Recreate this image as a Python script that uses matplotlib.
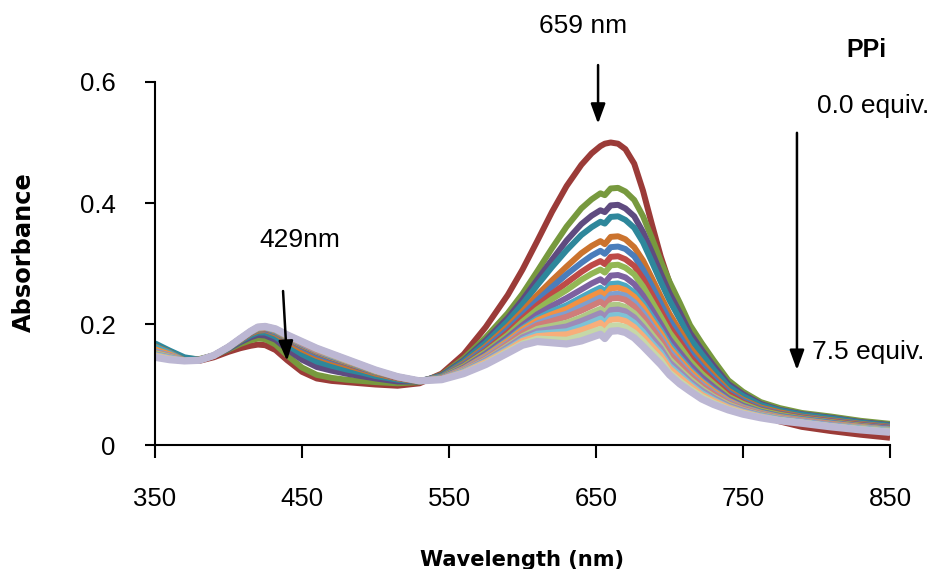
import matplotlib
matplotlib.use("Agg")
import matplotlib.pyplot as plt

# wavelength grid (nm) shared by every spectrum
wavelength = [350, 360, 370, 380, 390, 400, 408, 415, 420, 425, 432, 440, 450, 460, 470, 480, 490, 500, 515, 530,
              545, 560, 575, 590, 600, 610, 620, 630, 640, 647, 653, 656, 660, 665, 670, 676,
              682, 688, 694, 700, 707, 714, 722, 730, 740, 750, 762, 775, 790, 810, 830, 850]

# absorbance, 0.0 equiv. PPi first, 7.5 equiv. last
eq_00 = [0.150, 0.146, 0.141, 0.139, 0.145, 0.154, 0.160, 0.164, 0.166, 0.165, 0.157, 0.140, 0.121, 0.110, 0.106, 0.104, 0.102, 0.100, 0.098, 0.102,
         0.118, 0.150, 0.195, 0.248, 0.290, 0.337, 0.385, 0.428, 0.463, 0.482, 0.494, 0.498, 0.500, 0.498, 0.489, 0.465,
         0.420, 0.365, 0.312, 0.268, 0.225, 0.185, 0.148, 0.118, 0.089, 0.068, 0.051, 0.039, 0.030, 0.023, 0.017, 0.012]
eq_01 = [0.155, 0.150, 0.143, 0.142, 0.148, 0.158, 0.167, 0.173, 0.176, 0.175, 0.166, 0.148, 0.128, 0.116, 0.111, 0.108, 0.106, 0.104, 0.102, 0.104,
         0.116, 0.143, 0.178, 0.218, 0.250, 0.287, 0.325, 0.361, 0.391, 0.406, 0.416, 0.413, 0.424, 0.425, 0.419, 0.405,
         0.378, 0.342, 0.304, 0.270, 0.235, 0.198, 0.168, 0.140, 0.107, 0.088, 0.071, 0.061, 0.053, 0.047, 0.040, 0.035]
eq_02 = [0.158, 0.150, 0.142, 0.141, 0.148, 0.159, 0.170, 0.178, 0.182, 0.181, 0.174, 0.158, 0.141, 0.129, 0.123, 0.118, 0.114, 0.110, 0.105, 0.105,
         0.115, 0.140, 0.173, 0.210, 0.240, 0.273, 0.306, 0.338, 0.365, 0.379, 0.388, 0.385, 0.396, 0.397, 0.391, 0.378,
         0.352, 0.319, 0.284, 0.251, 0.219, 0.185, 0.157, 0.131, 0.101, 0.084, 0.068, 0.058, 0.051, 0.045, 0.038, 0.033]
eq_03 = [0.168, 0.156, 0.145, 0.141, 0.148, 0.160, 0.172, 0.181, 0.186, 0.186, 0.179, 0.165, 0.150, 0.138, 0.131, 0.125, 0.120, 0.114, 0.108, 0.105,
         0.114, 0.138, 0.169, 0.205, 0.233, 0.264, 0.294, 0.322, 0.347, 0.360, 0.369, 0.366, 0.377, 0.378, 0.372, 0.359,
         0.335, 0.303, 0.270, 0.239, 0.208, 0.176, 0.150, 0.125, 0.097, 0.081, 0.066, 0.057, 0.050, 0.044, 0.037, 0.032]
eq_04 = [0.163, 0.153, 0.140, 0.141, 0.148, 0.161, 0.173, 0.184, 0.189, 0.190, 0.184, 0.172, 0.158, 0.147, 0.139, 0.132, 0.125, 0.118, 0.110, 0.105,
         0.113, 0.135, 0.163, 0.196, 0.221, 0.248, 0.272, 0.295, 0.317, 0.329, 0.337, 0.332, 0.344, 0.345, 0.340, 0.327,
         0.305, 0.276, 0.246, 0.217, 0.189, 0.161, 0.137, 0.115, 0.090, 0.075, 0.062, 0.054, 0.047, 0.041, 0.035, 0.030]
eq_05 = [0.160, 0.152, 0.140, 0.140, 0.148, 0.161, 0.174, 0.185, 0.191, 0.191, 0.186, 0.175, 0.162, 0.150, 0.142, 0.135, 0.127, 0.120, 0.111, 0.106,
         0.113, 0.133, 0.160, 0.191, 0.215, 0.239, 0.261, 0.282, 0.301, 0.313, 0.321, 0.316, 0.327, 0.328, 0.324, 0.312,
         0.290, 0.263, 0.234, 0.206, 0.180, 0.153, 0.130, 0.110, 0.087, 0.073, 0.060, 0.052, 0.046, 0.040, 0.034, 0.029]
eq_06 = [0.158, 0.150, 0.140, 0.140, 0.148, 0.161, 0.175, 0.186, 0.192, 0.192, 0.188, 0.176, 0.164, 0.153, 0.144, 0.136, 0.128, 0.121, 0.111, 0.106,
         0.112, 0.131, 0.156, 0.186, 0.209, 0.231, 0.250, 0.268, 0.286, 0.297, 0.304, 0.299, 0.311, 0.312, 0.307, 0.296,
         0.275, 0.249, 0.222, 0.195, 0.171, 0.146, 0.124, 0.105, 0.084, 0.070, 0.058, 0.051, 0.045, 0.039, 0.033, 0.028]
eq_07 = [0.157, 0.150, 0.140, 0.140, 0.148, 0.161, 0.175, 0.186, 0.192, 0.193, 0.188, 0.177, 0.165, 0.154, 0.145, 0.137, 0.129, 0.121, 0.112, 0.106,
         0.112, 0.130, 0.154, 0.182, 0.204, 0.224, 0.241, 0.256, 0.273, 0.283, 0.290, 0.285, 0.297, 0.298, 0.293, 0.282,
         0.262, 0.237, 0.212, 0.186, 0.163, 0.139, 0.118, 0.101, 0.080, 0.068, 0.057, 0.050, 0.044, 0.038, 0.032, 0.027]
eq_08 = [0.156, 0.149, 0.139, 0.140, 0.148, 0.162, 0.175, 0.186, 0.193, 0.193, 0.189, 0.178, 0.166, 0.155, 0.146, 0.138, 0.130, 0.122, 0.112, 0.106,
         0.111, 0.128, 0.151, 0.178, 0.198, 0.216, 0.230, 0.243, 0.257, 0.267, 0.274, 0.268, 0.280, 0.281, 0.277, 0.266,
         0.247, 0.224, 0.200, 0.175, 0.153, 0.132, 0.112, 0.096, 0.077, 0.065, 0.055, 0.048, 0.043, 0.037, 0.031, 0.027]
eq_09 = [0.162, 0.152, 0.139, 0.140, 0.148, 0.162, 0.175, 0.187, 0.193, 0.194, 0.189, 0.179, 0.167, 0.156, 0.147, 0.139, 0.130, 0.122, 0.112, 0.106,
         0.111, 0.126, 0.148, 0.174, 0.193, 0.209, 0.221, 0.231, 0.244, 0.253, 0.260, 0.254, 0.266, 0.267, 0.263, 0.252,
         0.234, 0.212, 0.190, 0.166, 0.145, 0.125, 0.106, 0.091, 0.074, 0.063, 0.054, 0.047, 0.042, 0.036, 0.030, 0.026]
eq_10 = [0.158, 0.150, 0.139, 0.140, 0.148, 0.162, 0.175, 0.187, 0.193, 0.194, 0.190, 0.179, 0.168, 0.156, 0.148, 0.139, 0.131, 0.122, 0.112, 0.106,
         0.110, 0.126, 0.147, 0.172, 0.191, 0.206, 0.216, 0.225, 0.238, 0.246, 0.253, 0.247, 0.259, 0.260, 0.256, 0.245,
         0.228, 0.206, 0.185, 0.161, 0.141, 0.122, 0.104, 0.089, 0.073, 0.062, 0.053, 0.046, 0.041, 0.035, 0.030, 0.025]
eq_11 = [0.155, 0.148, 0.139, 0.140, 0.148, 0.162, 0.175, 0.187, 0.194, 0.195, 0.190, 0.180, 0.168, 0.157, 0.148, 0.140, 0.131, 0.123, 0.112, 0.106,
         0.110, 0.125, 0.145, 0.169, 0.187, 0.201, 0.210, 0.217, 0.229, 0.237, 0.244, 0.238, 0.249, 0.250, 0.247, 0.236,
         0.219, 0.198, 0.178, 0.155, 0.136, 0.117, 0.100, 0.086, 0.071, 0.061, 0.052, 0.045, 0.040, 0.034, 0.029, 0.025]
eq_12 = [0.153, 0.147, 0.139, 0.140, 0.148, 0.162, 0.175, 0.187, 0.194, 0.195, 0.190, 0.180, 0.168, 0.157, 0.149, 0.140, 0.131, 0.123, 0.112, 0.106,
         0.110, 0.124, 0.143, 0.167, 0.185, 0.198, 0.205, 0.212, 0.222, 0.230, 0.237, 0.231, 0.242, 0.243, 0.240, 0.229,
         0.212, 0.193, 0.173, 0.150, 0.132, 0.114, 0.097, 0.084, 0.069, 0.060, 0.051, 0.045, 0.040, 0.034, 0.028, 0.024]
eq_13 = [0.152, 0.146, 0.139, 0.140, 0.148, 0.162, 0.176, 0.187, 0.194, 0.195, 0.191, 0.180, 0.169, 0.158, 0.149, 0.140, 0.132, 0.123, 0.113, 0.106,
         0.109, 0.123, 0.141, 0.164, 0.180, 0.192, 0.197, 0.202, 0.211, 0.219, 0.225, 0.219, 0.231, 0.232, 0.228, 0.218,
         0.202, 0.183, 0.165, 0.142, 0.125, 0.109, 0.093, 0.080, 0.067, 0.058, 0.050, 0.044, 0.039, 0.033, 0.028, 0.024]
eq_14 = [0.150, 0.145, 0.139, 0.140, 0.148, 0.162, 0.176, 0.187, 0.194, 0.195, 0.191, 0.181, 0.169, 0.158, 0.150, 0.141, 0.132, 0.123, 0.113, 0.106,
         0.109, 0.122, 0.140, 0.162, 0.178, 0.188, 0.192, 0.196, 0.205, 0.212, 0.218, 0.212, 0.223, 0.224, 0.221, 0.211,
         0.195, 0.177, 0.160, 0.137, 0.121, 0.105, 0.090, 0.078, 0.065, 0.057, 0.049, 0.043, 0.039, 0.033, 0.027, 0.023]
eq_15 = [0.149, 0.144, 0.139, 0.140, 0.148, 0.162, 0.176, 0.188, 0.195, 0.195, 0.191, 0.181, 0.170, 0.159, 0.150, 0.141, 0.132, 0.123, 0.113, 0.106,
         0.109, 0.121, 0.138, 0.159, 0.174, 0.184, 0.186, 0.188, 0.196, 0.203, 0.209, 0.202, 0.214, 0.215, 0.212, 0.202,
         0.187, 0.169, 0.153, 0.131, 0.116, 0.101, 0.086, 0.075, 0.063, 0.055, 0.048, 0.042, 0.038, 0.032, 0.027, 0.023]
eq_16 = [0.148, 0.143, 0.139, 0.140, 0.148, 0.162, 0.176, 0.188, 0.195, 0.196, 0.192, 0.181, 0.170, 0.159, 0.150, 0.141, 0.132, 0.123, 0.113, 0.106,
         0.109, 0.120, 0.137, 0.157, 0.172, 0.180, 0.182, 0.183, 0.190, 0.196, 0.202, 0.195, 0.207, 0.208, 0.205, 0.195,
         0.180, 0.164, 0.148, 0.127, 0.112, 0.098, 0.083, 0.073, 0.062, 0.054, 0.047, 0.041, 0.037, 0.031, 0.026, 0.022]
eq_17 = [0.147, 0.142, 0.139, 0.140, 0.148, 0.162, 0.176, 0.188, 0.195, 0.196, 0.192, 0.182, 0.171, 0.160, 0.151, 0.142, 0.133, 0.124, 0.113, 0.106,
         0.108, 0.119, 0.135, 0.155, 0.168, 0.176, 0.175, 0.174, 0.181, 0.187, 0.192, 0.186, 0.197, 0.198, 0.195, 0.186,
         0.172, 0.156, 0.141, 0.120, 0.106, 0.093, 0.080, 0.070, 0.060, 0.053, 0.046, 0.041, 0.037, 0.031, 0.026, 0.022]
eq_18 = [0.145, 0.141, 0.139, 0.140, 0.148, 0.162, 0.176, 0.188, 0.195, 0.196, 0.192, 0.182, 0.171, 0.160, 0.151, 0.142, 0.133, 0.124, 0.113, 0.106,
         0.108, 0.118, 0.133, 0.152, 0.165, 0.171, 0.169, 0.167, 0.172, 0.178, 0.183, 0.176, 0.188, 0.189, 0.186, 0.177,
         0.163, 0.148, 0.133, 0.116, 0.101, 0.089, 0.076, 0.067, 0.058, 0.051, 0.045, 0.040, 0.036, 0.030, 0.025, 0.021]

spectra = [eq_00, eq_01, eq_02, eq_03, eq_04, eq_05, eq_06, eq_07, eq_08, eq_09,
           eq_10, eq_11, eq_12, eq_13, eq_14, eq_15, eq_16, eq_17, eq_18]

colors = ['#9B3B38', '#77993E', '#5F4B80', '#2E879B', '#CB732E', '#4A7DBB', '#BE4A47',
          '#93B755', '#7D61A0', '#4AA8C2', '#F39142', '#7E9FCF', '#CF7D7A', '#AFC885',
          '#9D8BB8', '#7EC3D6', '#F8AE7A', '#C6D8A8', '#BCB7D3']

x_ticks = [350, 450, 550, 650, 750, 850]
y_ticks = [0, 0.2, 0.4, 0.6]
y_tick_labels = ['0', '0.2', '0.4', '0.6']

plt.rcParams['font.family'] = ['Liberation Sans', 'DejaVu Sans']

fig = plt.figure(figsize=(9.44, 5.69), dpi=100)
ax = fig.add_axes([0.1642, 0.2179, 0.7786, 0.638])

for i, (spec, col) in enumerate(zip(spectra, colors)):
    lw = 5.2 if i == len(spectra) - 1 else 4.3
    ax.plot(wavelength, spec, color=col, linewidth=lw,
            solid_joinstyle='round', solid_capstyle='butt')

ax.set_xlim(350, 850)
ax.set_ylim(0, 0.6)
ax.set_xticks(x_ticks)
ax.set_yticks(y_ticks)
ax.set_yticklabels(y_tick_labels)

for side in ['top', 'right']:
    ax.spines[side].set_visible(False)
for side in ['left', 'bottom']:
    ax.spines[side].set_linewidth(1.5)
    ax.spines[side].set_color('black')

ax.tick_params(axis='x', direction='out', length=9.5, width=1.5, pad=21, labelsize=18.5)
ax.tick_params(axis='y', direction='out', length=7.5, width=1.5, pad=21, labelsize=18.5)

fig.text(24 / 944, 1 - 252 / 569, 'Absorbance', rotation=90, ha='center', va='center',
         fontsize=17.4, fontweight='bold', family='DejaVu Sans')
fig.text(522 / 944, 1 - 566 / 569, 'Wavelength (nm)', ha='center', va='baseline',
         fontsize=15.1, fontweight='bold', family='DejaVu Sans')

# peak labels and arrows
head = dict(arrowstyle='-|>,head_length=0.6,head_width=0.22', color='black', lw=1.8,
            mutation_scale=20, shrinkA=0, shrinkB=0)
ax.annotate('', xy=(651.4, 0.531), xytext=(651.4, 0.628), arrowprops=head, annotation_clip=False)
ax.annotate('', xy=(439.8, 0.139), xytext=(437.1, 0.2545), arrowprops=head, annotation_clip=False)
ax.annotate('', xy=(786.7, 0.124), xytext=(786.7, 0.516), arrowprops=head, annotation_clip=False)

ax.text(641.2, 0.6926, '659 nm', ha='center', va='center', fontsize=19, clip_on=False)
ax.text(448.6, 0.339, '429nm', ha='center', va='center', fontsize=19, clip_on=False)
ax.text(834, 0.653, 'PPi', ha='center', va='center', fontsize=18, fontweight='bold', clip_on=False)
ax.text(800.3, 0.560, '0.0 equiv.', ha='left', va='center', fontsize=19, clip_on=False)
ax.text(797, 0.154, '7.5 equiv.', ha='left', va='center', fontsize=19, clip_on=False)

fig.savefig('out.png', dpi=100)
